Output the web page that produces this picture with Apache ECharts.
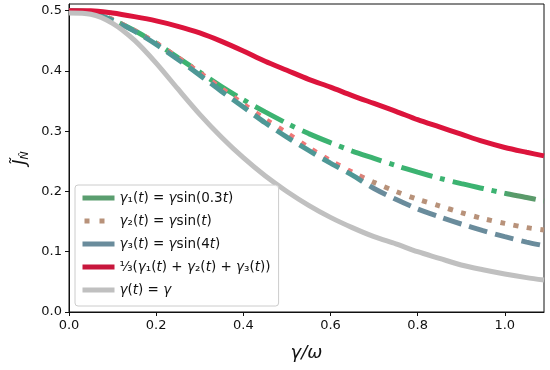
<!DOCTYPE html>
<html>
<head>
<meta charset="utf-8">
<script src="https://cdn.jsdelivr.net/npm/echarts@6/dist/echarts.min.js"></script>
<style>html,body{margin:0;padding:0;background:#fff}#c{width:550px;height:370px}</style>
</head>
<body>
<div id="c"></div>
<script>
// x values (gamma/omega)
const xs = [0, 0.05, 0.1, 0.15, 0.2, 0.25, 0.3, 0.35, 0.4, 0.45, 0.5, 0.55, 0.6, 0.65, 0.7, 0.75, 0.8, 0.85, 0.9, 0.95, 1.0, 1.05, 1.09];
const gamma1 = [0.500, 0.498, 0.485, 0.467, 0.446, 0.422, 0.398, 0.374, 0.352, 0.332, 0.313, 0.296, 0.281, 0.267, 0.255, 0.243, 0.232, 0.222, 0.213, 0.205, 0.197, 0.190, 0.184];
const gamma2 = [0.500, 0.497, 0.485, 0.467, 0.446, 0.422, 0.397, 0.371, 0.345, 0.320, 0.297, 0.273, 0.251, 0.232, 0.215, 0.200, 0.187, 0.176, 0.165, 0.155, 0.147, 0.140, 0.136];
const gamma3 = [0.500, 0.497, 0.484, 0.466, 0.444, 0.419, 0.393, 0.366, 0.340, 0.314, 0.290, 0.268, 0.247, 0.227, 0.205, 0.187, 0.171, 0.158, 0.146, 0.135, 0.125, 0.116, 0.110];
const average = [0.500, 0.500, 0.496, 0.490, 0.483, 0.474, 0.463, 0.449, 0.433, 0.416, 0.401, 0.386, 0.373, 0.359, 0.346, 0.333, 0.319, 0.307, 0.295, 0.283, 0.273, 0.265, 0.259];
const constant = [0.496, 0.494, 0.479, 0.451, 0.413, 0.370, 0.328, 0.290, 0.256, 0.226, 0.200, 0.177, 0.157, 0.140, 0.125, 0.113, 0.100, 0.089, 0.078, 0.070, 0.063, 0.057, 0.053];
const xTicks = [0, 0.2, 0.4, 0.6, 0.8, 1.0];
const yTicks = [0, 0.1, 0.2, 0.3, 0.4, 0.5];
const legendNames = ['γ1(t) = γsin(0.3t)', 'γ2(t) = γsin(t)', 'γ3(t) = γsin(4t)', '1/3(γ1(t) + γ2(t) + γ3(t))', 'γ(t) = γ'];
const legendRich = [
  '{i|γ}₁({i|t}) = {i|γ}sin(0.3{i|t})',
  '{i|γ}₂({i|t}) = {i|γ}sin({i|t})',
  '{i|γ}₃({i|t}) = {i|γ}sin(4{i|t})',
  '⅓({i|γ}₁({i|t}) + {i|γ}₂({i|t}) + {i|γ}₃({i|t}))',
  '{i|γ}({i|t}) = {i|γ}'
];

const pairs = ys => xs.map((x, i) => [x, ys[i]]);
const grad = (stops) => ({type: 'linear', x: 0, y: 0, x2: 1, y2: 0, colorStops: stops.map(s => ({offset: s[0], color: s[1]}))});
const FONT = 'DejaVu Sans';
const TXT = '#111';
// legend-only entries (no data) so that the legend keys show the short solid / dotted marks
const keyStyles = [
  {color: '#5a9e6f', type: 'solid', dashOffset: 0},
  {color: '#b8927a', type: [5, 10], dashOffset: 13},
  {color: '#6a8c9c', type: 'solid', dashOffset: 0},
  {color: '#c8163c', type: 'solid', dashOffset: 0},
  {color: '#c0c0c0', type: 'solid', dashOffset: 0}
];
const keySeries = legendNames.map((n, k) => ({
  name: n, type: 'line', data: [], symbol: 'none', showSymbol: false,
  itemStyle: {color: keyStyles[k].color},
  lineStyle: {width: 5, cap: 'butt', color: keyStyles[k].color, type: keyStyles[k].type, dashOffset: keyStyles[k].dashOffset}
}));

const chart = echarts.init(document.getElementById('c'), null, {renderer: 'canvas'});
chart.setOption({
  animation: false,
  backgroundColor: '#fff',
  grid: {left: 69, right: 6, top: 4, bottom: 58, show: true, borderColor: '#111', borderWidth: 1, backgroundColor: 'transparent'},
  xAxis: {
    type: 'value', min: 0, max: 1.09,
    name: 'γ/ω', nameLocation: 'middle', nameGap: 32,
    nameTextStyle: {fontFamily: FONT, fontSize: 18, fontStyle: 'italic', color: TXT},
    axisLine: {show: true, lineStyle: {color: '#111', width: 1}},
    axisTick: {show: true, length: 4, inside: false, lineStyle: {color: '#111'}, customValues: xTicks},
    axisLabel: {fontFamily: FONT, fontSize: 13, color: TXT, margin: 7, customValues: xTicks, formatter: v => v.toFixed(1)},
    splitLine: {show: false}
  },
  yAxis: {
    type: 'value', min: 0, max: 0.511,
    name: '{j|J̃}{n|N̂}', nameLocation: 'middle', nameGap: 38, nameRotate: 90,
    nameTextStyle: {
      color: TXT,
      rich: {
        j: {fontFamily: FONT, fontSize: 17, fontStyle: 'italic', color: TXT},
        n: {fontFamily: FONT, fontSize: 11, fontStyle: 'italic', color: TXT, padding: [9, 0, 0, 0]}
      }
    },
    axisLine: {show: true, lineStyle: {color: '#111', width: 1}},
    axisTick: {show: true, length: 4, lineStyle: {color: '#111'}, customValues: yTicks},
    axisLabel: {fontFamily: FONT, fontSize: 13, color: TXT, margin: 7, customValues: yTicks, formatter: v => v.toFixed(1)},
    splitLine: {show: false}
  },
  legend: {
    left: 75, top: 185, orient: 'vertical',
    itemWidth: 32, itemHeight: 5, itemGap: 7,
    padding: [5, 8, 8, 5],
    borderColor: '#cccccc', borderWidth: 1, borderRadius: 3,
    backgroundColor: 'rgba(255,255,255,0.85)',
    itemStyle: {color: 'rgba(0,0,0,0)', borderWidth: 0, opacity: 0},
    lineStyle: {width: 5, cap: 'butt'},
    data: legendNames,
    formatter: n => legendRich[legendNames.indexOf(n)],
    textStyle: {
      fontFamily: FONT, fontSize: 13.5, color: TXT, lineHeight: 16, padding: [0, 0, 0, 0],
      rich: {i: {fontFamily: FONT, fontSize: 13.5, fontStyle: 'italic', color: TXT, lineHeight: 16}}
    }
  },
  series: [
    {name: 'curve1', type: 'line', data: pairs(gamma1), smooth: 0.3, showSymbol: false, symbol: 'none',
     lineStyle: {width: 5, cap: 'butt', type: [32, 8, 5, 8], color: grad([[0, '#3cb371'], [0.9, '#3cb371'], [0.93, '#5a9a6a'], [1, '#5a9a6a']])}},
    {name: 'curve2', type: 'line', data: pairs(gamma2), smooth: 0.3, showSymbol: false, symbol: 'none',
     lineStyle: {width: 5, cap: 'butt', type: [5, 8.5], color: grad([[0, '#f07878'], [0.6, '#f07878'], [0.64, '#b8927a'], [1, '#b8927a']])}},
    {name: 'curve3', type: 'line', data: pairs(gamma3), smooth: 0.3, showSymbol: false, symbol: 'none',
     lineStyle: {width: 5, cap: 'butt', type: [19, 8], color: grad([[0, '#4e9896'], [0.6, '#4e9896'], [0.64, '#6a8c9c'], [1, '#6a8c9c']])}},
    {name: 'curveAvg', type: 'line', data: pairs(average), smooth: 0.3, showSymbol: false, symbol: 'none',
     lineStyle: {width: 5, color: '#dc143c'}},
    {name: 'curveConst', type: 'line', data: pairs(constant), smooth: 0.3, showSymbol: false, symbol: 'none',
     lineStyle: {width: 5, color: '#c0c0c0'}}
  ].concat(keySeries)
});
</script>
</body>
</html>
